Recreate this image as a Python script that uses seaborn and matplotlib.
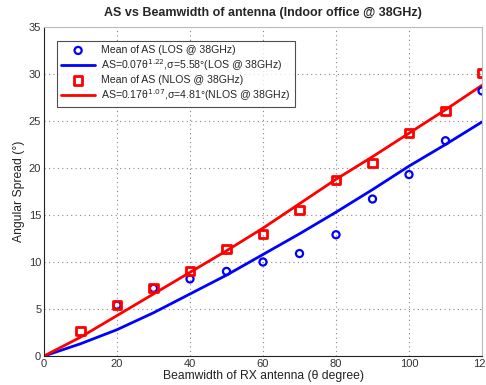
import matplotlib
matplotlib.use("Agg")
import matplotlib.pyplot as plt
import seaborn as sns
import pandas as pd

# Measured points
beam_los = [20, 30, 40, 50, 60, 70, 80, 90, 100, 110, 120]
as_los = [5.4, 7.2, 8.2, 9.0, 10.0, 10.9, 12.9, 16.7, 19.3, 22.9, 28.2]
beam_nlos = [10, 20, 30, 40, 50, 60, 70, 80, 90, 100, 110, 120]
as_nlos = [2.7, 5.4, 7.2, 9.0, 11.35, 13.0, 15.55, 18.7, 20.5, 23.7, 26.1, 30.1]

# Fitted curves
fit_x = [0, 10, 20, 30, 40, 50, 60, 70, 80, 90, 100, 110, 120]
fit_los = [0, 1.3, 2.8, 4.6, 6.6, 8.6, 10.8, 13.0, 15.3, 17.7, 20.2, 22.5, 24.9]
fit_nlos = [0, 2.0, 4.3, 6.6, 8.9, 11.2, 13.6, 16.2, 18.8, 21.2, 23.7, 26.2, 28.8]

labels = ["Mean of AS (LOS @ 38GHz)",
          "AS=0.07θ$^{1.22}$,σ=5.58°(LOS @ 38GHz)",
          "Mean of AS (NLOS @ 38GHz)",
          "AS=0.17θ$^{1.07}$,σ=4.81°(NLOS @ 38GHz)"]

sns.set_style("white")
plt.rcParams['font.family'] = ['Liberation Sans', 'DejaVu Sans']
plt.rcParams['mathtext.fontset'] = 'dejavusans'

fig = plt.figure(figsize=(4.86, 3.85), dpi=100)
ax = fig.add_axes([44/486, 1-356/385, (482-44)/486, (356-27)/385])

df_los = pd.DataFrame({"x": beam_los, "y": as_los})
df_nlos = pd.DataFrame({"x": beam_nlos, "y": as_nlos})
df_fl = pd.DataFrame({"x": fit_x, "y": fit_los})
df_fn = pd.DataFrame({"x": fit_x, "y": fit_nlos})

sns.lineplot(data=df_fl, x="x", y="y", ax=ax, color="#0000ff", lw=2, label=labels[1], zorder=2)
sns.lineplot(data=df_fn, x="x", y="y", ax=ax, color="#ff0000", lw=2, label=labels[3], zorder=2)
sns.scatterplot(data=df_los, x="x", y="y", ax=ax, marker="o", s=26, facecolor="none",
                edgecolor="#0000ff", linewidth=1.6, label=labels[0], zorder=3)
sns.scatterplot(data=df_nlos, x="x", y="y", ax=ax, marker="s", s=34, facecolor="none",
                edgecolor="#ff0000", linewidth=2, label=labels[2], zorder=4)

ax.set_xlim(0, 120)
ax.set_ylim(0, 35)
ax.set_xticks(range(0, 121, 20))
ax.set_yticks(range(0, 36, 5))
ax.grid(True, linestyle=(0, (1, 3)), color="#888888", linewidth=0.8)
ax.tick_params(direction="in", labelsize=8, colors="#333333", length=3, pad=2)
for s in ["top", "right"]:
    ax.spines[s].set_color("#bbbbbb")
for s in ["left", "bottom"]:
    ax.spines[s].set_color("#222222")

ax.set_xlabel("Beamwidth of RX antenna (θ degree)", fontsize=8.7, color="#222222", labelpad=1)
ax.set_ylabel("Angular Spread (°)", fontsize=8.7, color="#222222", labelpad=3)
ax.set_title("AS vs Beamwidth of antenna (Indoor office @ 38GHz)", fontsize=9,
             fontweight="bold", pad=8)

h, l = ax.get_legend_handles_labels()
hd = dict(zip(l, h))
leg = ax.legend([hd[x] for x in labels], labels, loc="upper left",
                bbox_to_anchor=(13/438, 1-14/329), borderaxespad=0, fontsize=7.6,
                frameon=True, fancybox=False, edgecolor="#222222", borderpad=0.4,
                labelspacing=0.2, handlelength=3.2, handletextpad=0.6)
leg.get_frame().set_linewidth(0.8)

fig.savefig("out.png", dpi=100)
